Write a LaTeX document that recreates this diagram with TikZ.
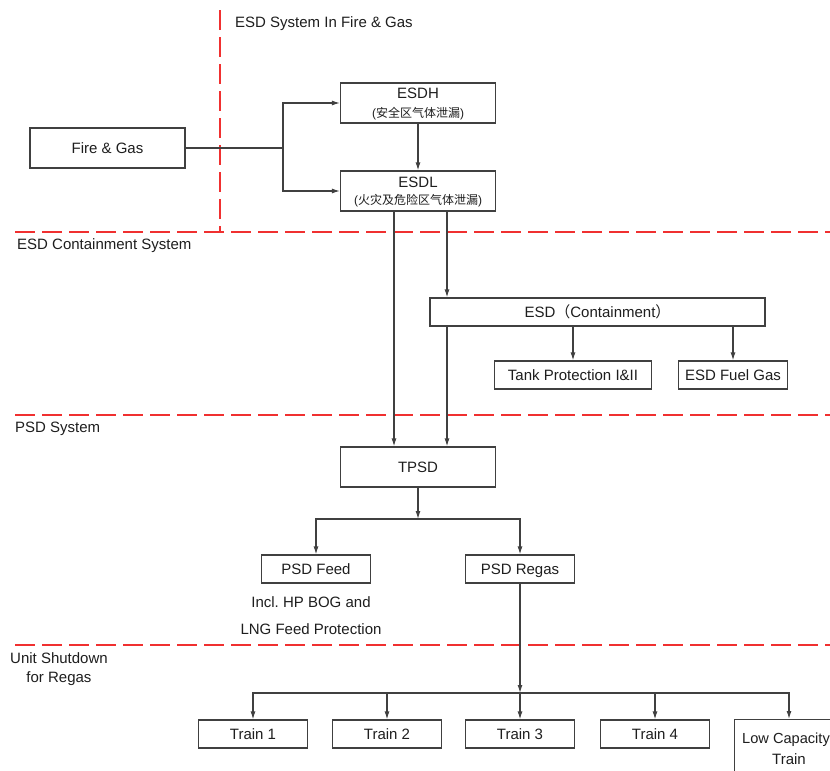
\documentclass[tikz,border=0pt]{standalone}
\usepackage{fontspec}
\setmainfont{Liberation Sans}
\newfontfamily\cjkfont{Noto Sans CJK SC}
\usetikzlibrary{arrows.meta}
\definecolor{linegray}{HTML}{404040}
\definecolor{sepred}{HTML}{F03030}
\definecolor{txt}{HTML}{1E1E1E}
\frenchspacing
\begin{document}
\begin{tikzpicture}[x=1pt,y=-1pt,
  every node/.style={inner sep=0pt,text=txt,font=\fontsize{15}{18}\selectfont},
  box/.style={draw=linegray,line width=1.2pt,fill=white,text height=10.8pt,text depth=0pt},
  small/.style={font=\fontsize{12}{14}\cjkfont},
  conn/.style={draw=linegray,line width=1.2pt},
  arr/.style={conn,-{Latex[length=8pt,width=5pt]}},
  sep/.style={draw=sepred,line width=1.1pt,dash pattern=on 20pt off 7pt},
  lbl/.style={anchor=west}]
\useasboundingbox (0,0) rectangle (830,771);
\clip (0,0) rectangle (830,771);
\fill[white] (0,0) rectangle (830,771);

% separators
\draw[sep] (220,10) -- (220,232);
\draw[sep] (15,232) -- (830,232);
\draw[sep] (15,415) -- (830,415);
\draw[sep] (15,645) -- (830,645);

% region labels
\node[lbl] (l1) at (235,24) {ESD System In Fire \& Gas};
\node[lbl] (l2) at (17,246) {ESD Containment System};
\node[lbl] (l3) at (15,429) {PSD System};
\node[align=center,font=\fontsize{15}{19}\selectfont] (l4) at (59,669) {Unit Shutdown\\for Regas};

% boxes
\node[box,minimum width=155pt,minimum height=40pt] (fg) at (107.5,148) {Fire \& Gas};
\node[box,minimum width=155pt,minimum height=40pt] (esdh) at (418,103) {};
\node (esdhT) at (418,93) {ESDH};
\node[small] (esdhC) at (418,114) {{\fontspec{Liberation Sans}(}安全区气体泄漏{\fontspec{Liberation Sans})}};
\node[box,minimum width=155pt,minimum height=40pt] (esdl) at (418,191) {};
\node (esdlT) at (418,182) {ESDL};
\node[small] (esdlC) at (418,201) {{\fontspec{Liberation Sans}(}火灾及危险区气体泄漏{\fontspec{Liberation Sans})}};

\node[box,minimum width=335pt,minimum height=28pt] (esd) at (597.5,312) {ESD{\cjkfont （}Containment{\cjkfont ）}};
\node[box,minimum width=157pt,minimum height=28pt] (tank) at (573,375) {Tank Protection I\&II};
\node[box,minimum width=109pt,minimum height=28pt] (fuel) at (733,375) {ESD Fuel Gas};

\node[box,minimum width=155pt,minimum height=40pt] (tpsd) at (418,467) {TPSD};
\node[box,minimum width=109pt,minimum height=28pt] (feed) at (316,569) {PSD Feed};
\node[box,minimum width=109pt,minimum height=28pt] (regas) at (520,569) {PSD Regas};
\node (note1) at (311,602) {Incl. HP BOG and};
\node (note2) at (311,629) {LNG Feed Protection};

\node[box,minimum width=109pt,minimum height=28pt] (t1) at (253,734) {Train 1};
\node[box,minimum width=109pt,minimum height=28pt] (t2) at (387,734) {Train 2};
\node[box,minimum width=109pt,minimum height=28pt] (t3) at (520,734) {Train 3};
\node[box,minimum width=109pt,minimum height=28pt] (t4) at (655,734) {Train 4};
\node[box,minimum width=109pt,minimum height=62pt,anchor=north] (t5) at (789,719) {};
\node[font=\fontsize{14.6}{18}\selectfont] (t5a) at (786,740) {Low Capacity};
\node (t5b) at (789,759) {Train};

% junctions
\coordinate (j1) at (283,148);
\coordinate (xa) at (394,0);
\coordinate (xb) at (447,0);
\coordinate (j2) at (418,519);
\coordinate (j3) at (520,693);

% connectors
\draw[conn] (fg.east) -- (j1);
\draw[arr] (j1) |- (esdh.west);
\draw[arr] (j1) |- (esdl.west);
\draw[arr] (esdh) -- (esdl);
\draw[arr] (esdl.south -| xa) -- (tpsd.north -| xa);
\draw[arr] (esdl.south -| xb) -- (esd.north -| xb);
\draw[arr] (esd.south -| xb) -- (tpsd.north -| xb);
\draw[arr] (esd.south -| tank.north) -- (tank.north);
\draw[arr] (esd.south -| fuel.north) -- (fuel.north);
\draw[arr] (tpsd) -- (j2);
\draw[arr] (j2) -| (feed.north);
\draw[arr] (j2) -| (regas.north);
\draw[arr] (regas) -- (j3);
\draw[arr] (j3) -| (t1.north);
\draw[arr] (j3) -| (t2.north);
\draw[arr] (j3) -- (t3.north);
\draw[arr] (j3) -| (t4.north);
\draw[arr] (j3) -| (t5.north);
\end{tikzpicture}
\end{document}
